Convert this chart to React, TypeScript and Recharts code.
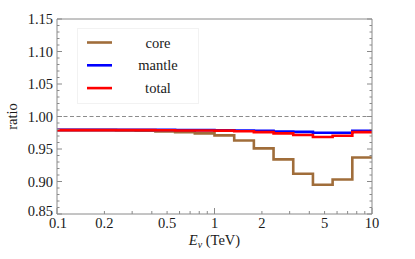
import {
  Label,
  Legend,
  Line,
  LineChart,
  ReferenceLine,
  XAxis,
  YAxis,
} from "recharts";

// bin edges in TeV (16 log-spaced bins)
const binEdges = [
  0.1, 0.1334, 0.1778, 0.2371, 0.3162, 0.4217, 0.5623, 0.7499, 1, 1.334,
  1.778, 2.371, 3.162, 4.217, 5.623, 7.499, 10,
];

const coreRatio = [
  0.979, 0.979, 0.979, 0.9785, 0.978, 0.977, 0.976, 0.974, 0.971, 0.963,
  0.951, 0.934, 0.912, 0.895, 0.903, 0.937,
];

const mantleRatio = [
  0.9795, 0.9795, 0.9795, 0.9795, 0.9795, 0.9795, 0.9793, 0.979, 0.9788,
  0.9785, 0.978, 0.9768, 0.9763, 0.975, 0.975, 0.978,
];

const totalRatio = [
  0.979, 0.979, 0.979, 0.979, 0.979, 0.9788, 0.9785, 0.9785, 0.9782, 0.9772,
  0.976, 0.974, 0.9715, 0.9685, 0.9705, 0.976,
];

const xTicks = [
  0.1, 0.2, 0.3, 0.4, 0.5, 0.6, 0.7, 0.8, 0.9, 1, 2, 3, 4, 5, 6, 7, 8, 9, 10,
];
const xLabels = [0.1, 0.2, 0.5, 1, 2, 5, 10];
const xMajor = [0.1, 1, 10];

const yTicks = [
  0.85, 0.86, 0.87, 0.88, 0.89, 0.9, 0.91, 0.92, 0.93, 0.94, 0.95, 0.96,
  0.97, 0.98, 0.99, 1, 1.01, 1.02, 1.03, 1.04, 1.05, 1.06, 1.07, 1.08, 1.09,
  1.1, 1.11, 1.12, 1.13, 1.14, 1.15,
];

const seriesNames = ["core", "mantle", "total"];
const seriesColors = ["#a06d3a", "#0000ff", "#ff0000"];

const FONT = '"Liberation Serif", "DejaVu Serif", serif';
const FRAME = "#8a8a8a";
const TEXT = "#1a1a1a";
const txt = { fontFamily: FONT, fontSize: 14.5, fill: TEXT };

const chartData = binEdges.map((edge, i) => {
  const k = Math.min(i, coreRatio.length - 1);
  return {
    energy: edge,
    core: coreRatio[k],
    mantle: mantleRatio[k],
    total: totalRatio[k],
  };
});

const isYMajor = (v: number) => Math.round(v * 100) % 5 === 0;
const yLabel = (v: number) => v.toFixed(2);

function BottomTick(props: any) {
  const { x, y, payload } = props;
  const v = payload.value as number;
  const len = xMajor.includes(v) ? 6 : 3;
  return (
    <g>
      <line x1={x} y1={y} x2={x} y2={y - len} stroke={FRAME} strokeWidth={1} />
      {xLabels.includes(v) && (
        <text x={v === 0.1 ? x + 1 : x} y={y + 14} textAnchor="middle" style={txt}>
          {String(v)}
        </text>
      )}
    </g>
  );
}

function TopTick(props: any) {
  const { x, y, payload } = props;
  const v = payload.value as number;
  const len = xMajor.includes(v) ? 6 : 3;
  return <line x1={x} y1={y} x2={x} y2={y + len} stroke={FRAME} strokeWidth={1} />;
}

function LeftTick(props: any) {
  const { x, y, payload } = props;
  const v = payload.value as number;
  const major = isYMajor(v);
  return (
    <g>
      <line x1={x} y1={y} x2={x + (major ? 5 : 2.5)} y2={y} stroke={FRAME} strokeWidth={1} />
      {major && (
        <text x={x - 4} y={v === 0.85 ? y + 2 : y + 5} textAnchor="end" style={txt}>
          {yLabel(v)}
        </text>
      )}
    </g>
  );
}

function RightTick(props: any) {
  const { x, y, payload } = props;
  const v = payload.value as number;
  const len = isYMajor(v) ? 5 : 2.5;
  return <line x1={x} y1={y} x2={x - len} y2={y} stroke={FRAME} strokeWidth={1} />;
}

function LegendBox() {
  return (
    <svg width={122} height={76} style={{ display: "block" }}>
      <rect x={0.5} y={0.5} width={121} height={75} fill="#fff" stroke="#f2f2f2" />
      {seriesNames.map((name, i) => {
        const cy = 14.5 + i * 22.8;
        return (
          <g key={name}>
            <line
              x1={10}
              y1={cy}
              x2={35}
              y2={cy}
              stroke={seriesColors[i]}
              strokeWidth={2.6}
            />
            <text x={81} y={cy + 5} textAnchor="middle" style={txt}>
              {name}
            </text>
          </g>
        );
      })}
    </svg>
  );
}

export default function App() {
  return (
    <div style={{ position: "absolute", left: 0, top: 0, background: "#fff" }}>
      <LineChart
        width={415}
        height={259}
        data={chartData}
        margin={{ top: 0, right: 0, bottom: 0, left: 0 }}
      >
        <XAxis
          xAxisId="bottom"
          dataKey="energy"
          type="number"
          scale="log"
          domain={[0.1, 10]}
          ticks={xTicks}
          interval={0}
          height={45}
          tickSize={0}
          tickMargin={0}
          tickLine={false}
          axisLine={{ stroke: FRAME }}
          tick={<BottomTick />}
          allowDataOverflow
        >
          <Label
            content={(p: any) => {
              const vb = p.viewBox;
              return (
                <text
                  x={vb.x + vb.width / 2}
                  y={vb.y + 31}
                  textAnchor="middle"
                  style={txt}
                >
                  <tspan fontStyle="italic">E</tspan>
                  <tspan fontStyle="italic" fontSize={10} dy={3}>
                    ν
                  </tspan>
                  <tspan dy={-3}> (TeV)</tspan>
                </text>
              );
            }}
          />
        </XAxis>
        <XAxis
          xAxisId="top"
          orientation="top"
          type="number"
          scale="log"
          domain={[0.1, 10]}
          ticks={xTicks}
          interval={0}
          height={19}
          tickSize={0}
          tickMargin={0}
          tickLine={false}
          axisLine={{ stroke: FRAME }}
          tick={<TopTick />}
          allowDataOverflow
        />
        <YAxis
          yAxisId="left"
          type="number"
          domain={[0.85, 1.15]}
          ticks={yTicks}
          interval={0}
          width={57}
          tickSize={0}
          tickMargin={0}
          tickLine={false}
          axisLine={{ stroke: FRAME }}
          tick={<LeftTick />}
          allowDataOverflow
        >
          <Label
            content={(p: any) => {
              const vb = p.viewBox;
              const cy = vb.y + vb.height / 2;
              return (
                <text
                  x={12}
                  y={cy}
                  transform={`rotate(-90 12 ${cy})`}
                  textAnchor="middle"
                  dominantBaseline="central"
                  style={txt}
                >
                  ratio
                </text>
              );
            }}
          />
        </YAxis>
        <YAxis
          yAxisId="right"
          orientation="right"
          type="number"
          domain={[0.85, 1.15]}
          ticks={yTicks}
          interval={0}
          width={43}
          tickSize={0}
          tickMargin={0}
          tickLine={false}
          axisLine={{ stroke: FRAME }}
          tick={<RightTick />}
          allowDataOverflow
        />
        <ReferenceLine
          xAxisId="bottom"
          yAxisId="left"
          y={1}
          stroke="#8c8c8c"
          strokeDasharray="4 2.5"
          strokeWidth={1}
        />
        {seriesNames.map((name, i) => (
          <Line
            key={name}
            xAxisId="bottom"
            yAxisId="left"
            dataKey={name}
            type="stepAfter"
            stroke={seriesColors[i]}
            strokeWidth={2.6}
            dot={false}
            activeDot={false}
            isAnimationActive={false}
          />
        ))}
        <Legend
          layout="vertical"
          align="center"
          verticalAlign="middle"
          wrapperStyle={{ position: "absolute", left: 77, top: 28, width: 122 }}
          content={<LegendBox />}
        />
      </LineChart>
    </div>
  );
}
